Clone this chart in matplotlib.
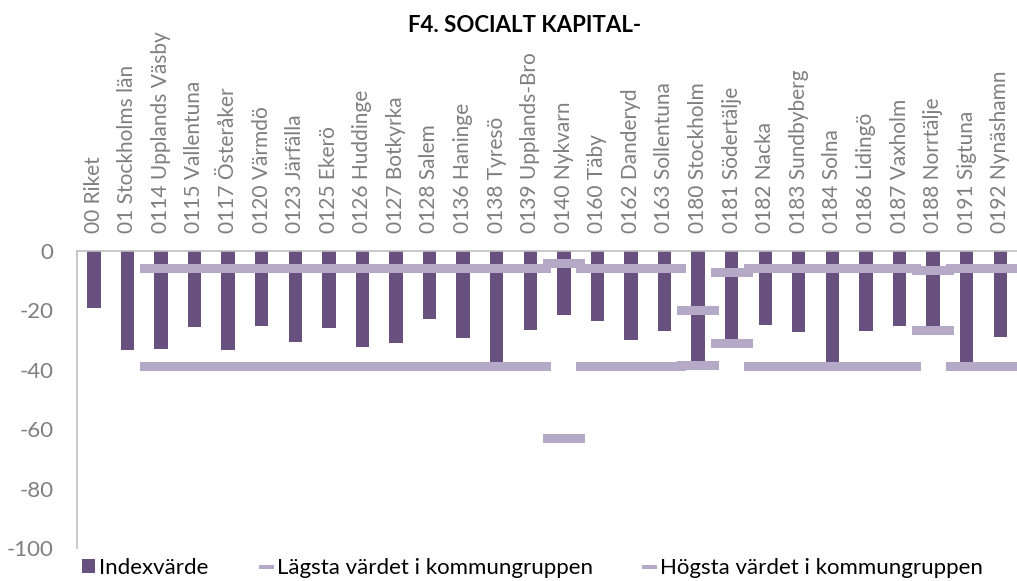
import matplotlib
matplotlib.use("Agg")
import matplotlib.pyplot as plt
from matplotlib.lines import Line2D
from matplotlib.patches import Patch
import numpy as np

categories = ["00 Riket", "01 Stockholms län", "0114 Upplands Väsby", "0115 Vallentuna",
              "0117 Österåker", "0120 Värmdö", "0123 Järfälla", "0125 Ekerö",
              "0126 Huddinge", "0127 Botkyrka", "0128 Salem", "0136 Haninge",
              "0138 Tyresö", "0139 Upplands-Bro", "0140 Nykvarn", "0160 Täby",
              "0162 Danderyd", "0163 Sollentuna", "0180 Stockholm", "0181 Södertälje",
              "0182 Nacka", "0183 Sundbyberg", "0184 Solna", "0186 Lidingö",
              "0187 Vaxholm", "0188 Norrtälje", "0191 Sigtuna", "0192 Nynäshamn"]

index_values = [-19.2, -33.3, -32.9, -25.7, -33.3, -25.3, -30.8, -25.9,
                -32.2, -31.1, -22.9, -29.3, -38.6, -26.5, -21.7, -23.7,
                -30.1, -26.8, -38.4, -29.6, -24.8, -27.4, -38.6, -26.8,
                -25.1, -25.1, -38.6, -28.9]

lowest_values = [np.nan, np.nan, -38.6, -38.6, -38.6, -38.6, -38.6, -38.6,
                 -38.6, -38.6, -38.6, -38.6, -38.6, -38.6, -62.8, -38.6,
                 -38.6, -38.6, -38.4, -31.1, -38.6, -38.6, -38.6, -38.6,
                 -38.6, -26.7, -38.6, -38.6]

highest_values = [np.nan, np.nan, -5.7, -5.7, -5.7, -5.7, -5.7, -5.7,
                  -5.7, -5.7, -5.7, -5.7, -5.7, -5.7, -4.2, -5.7,
                  -5.7, -5.7, -19.9, -7.0, -5.7, -5.7, -5.7, -5.7,
                  -5.7, -6.4, -5.7, -5.7]

yticks = [0, -20, -40, -60, -80, -100]

title = "F4. SOCIALT KAPITAL-"
legend_labels = ["Indexvärde", "Lägsta värdet i kommungruppen", "Högsta värdet i kommungruppen"]

bar_color = "#68507F"
marker_color = "#B4A9C6"
text_gray = "#7F7F7F"
axis_gray = "#BFBFBF"

plt.rcParams["font.family"] = ["Lato", "DejaVu Sans"]

W, H = 1017, 581
fig = plt.figure(figsize=(W / 100, H / 100), dpi=100)
ax = fig.add_axes([77 / W, 1 - 548 / H, 940 / W, 297 / H])

x = np.arange(len(categories))
ax.bar(x, index_values, width=0.4, color=bar_color, zorder=2)

# dash marker: wide flat rectangle
hh = 9 / 42
rect = [(-1, -hh), (1, -hh), (1, hh), (-1, hh), (-1, -hh)]
msize = 42 * 72 / 100
ax.plot(x, lowest_values, linestyle="none", marker=rect, markersize=msize,
        color=marker_color, markeredgewidth=0, zorder=3, clip_on=False)
ax.plot(x, highest_values, linestyle="none", marker=rect, markersize=msize,
        color=marker_color, markeredgewidth=0, zorder=3, clip_on=False)

ax.set_xlim(-0.5, len(categories) - 0.5)
ax.set_ylim(-100, 0)
ax.set_yticks(yticks)
ax.set_yticklabels([str(v) for v in yticks])
ax.tick_params(axis="y", length=0, pad=17, labelsize=16, labelcolor=text_gray)

ax.xaxis.tick_top()
ax.set_xticks(x)
ax.set_xticklabels(categories, rotation=90, ha="center", va="bottom")
ax.tick_params(axis="x", length=0, pad=13, labelsize=15, labelcolor=text_gray)

for side in ["right", "bottom"]:
    ax.spines[side].set_visible(False)
for side in ["top", "left"]:
    ax.spines[side].set_color(axis_gray)
    ax.spines[side].set_linewidth(1.2)

fig.text(0.516, 1 - 25 / H, title, ha="center", va="center",
         fontsize=16, fontweight="bold", color="black")

dh = 3.5 / 15
dash = [(-1, -dh), (1, -dh), (1, dh), (-1, dh), (-1, -dh)]
handles = [Patch(facecolor=bar_color, edgecolor="none"),
           Line2D([], [], linestyle="none", marker=dash, markersize=10.8,
                  color=marker_color, markeredgewidth=0),
           Line2D([], [], linestyle="none", marker=dash, markersize=10.8,
                  color=marker_color, markeredgewidth=0)]
fig.legend(handles, legend_labels, loc="center", bbox_to_anchor=(0.5236, 1 - 568 / H),
           ncol=3, frameon=False, fontsize=16, handlelength=0.6, handleheight=0.6,
           handletextpad=0.2, columnspacing=2.25, labelcolor="black",
           borderpad=0, borderaxespad=0)

fig.savefig("out.png", dpi=100)
